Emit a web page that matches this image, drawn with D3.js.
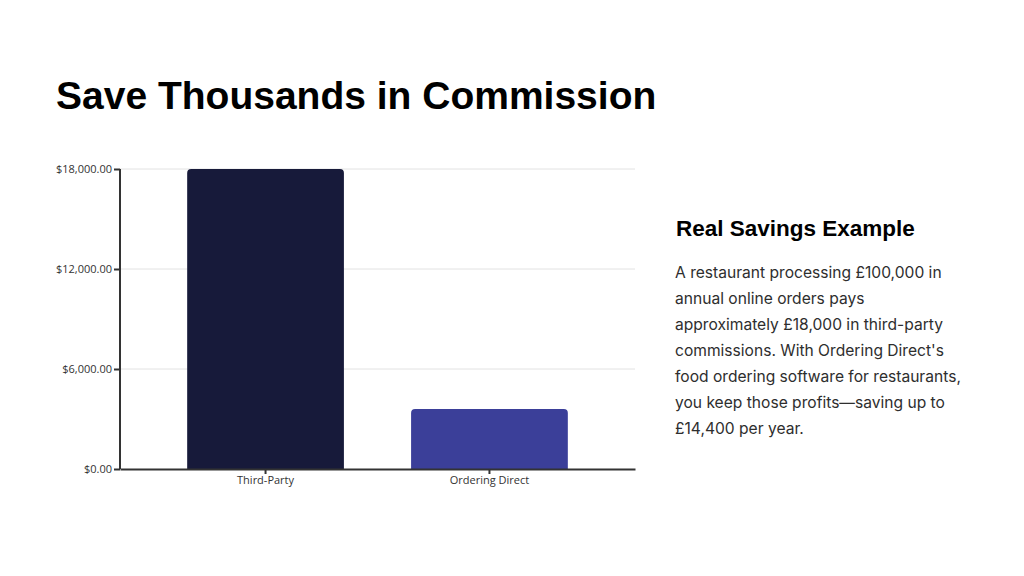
<!DOCTYPE html>
<html lang="en">
<head>
    <meta charset="UTF-8">
    <title>Save Thousands in Commission</title>
    <script src="https://cdn.jsdelivr.net/npm/d3@7"></script>
    <style>
        body { margin: 0; background: #fff; overflow: hidden; }
        svg { display: block; }
    </style>
</head>
<body>
    <svg width="1024" height="576" id="mainsvg"></svg>
    <script>
        const categories = ['Third-Party', 'Ordering Direct'];
        const commission = [18000, 3600];
        const barColors = ['#171a3a', '#3b3f99'];
        const yTicks = [0, 6000, 12000, 18000];
        const bodyLines = [
            'A restaurant processing £100,000 in',
            'annual online orders pays',
            'approximately £18,000 in third-party',
            "commissions. With Ordering Direct's",
            'food ordering software for restaurants,',
            'you keep those profits—saving up to',
            '£14,400 per year.'
        ];

        const svg = d3.select('#mainsvg');
        const margin = { top: 169, right: 389, bottom: 107, left: 120 };
        const innerWidth = 1024 - margin.left - margin.right;
        const innerHeight = 576 - margin.top - margin.bottom;

        svg.append('text')
            .attr('x', 56).attr('y', 109)
            .attr('font-family', 'Liberation Sans, Arial, sans-serif')
            .attr('font-weight', 'bold')
            .attr('font-size', 39)
            .attr('fill', '#000')
            .text('Save Thousands in Commission');

        const g = svg.append('g')
            .attr('transform', `translate(${margin.left},${margin.top})`);

        const x = d3.scaleBand().domain(categories).range([0, innerWidth]).padding(0.3);
        const y = d3.scaleLinear().domain([0, 18000]).range([innerHeight, 0]);

        // gridlines
        g.selectAll('.grid').data(yTicks.slice(1)).join('line')
            .attr('x1', 0).attr('x2', innerWidth)
            .attr('y1', d => y(d)).attr('y2', d => y(d))
            .attr('stroke', '#e2e2e2').attr('stroke-width', 1);

        // bars with rounded top corners
        const r = 4;
        g.selectAll('.bar').data(categories).join('path')
            .attr('d', (c, i) => {
                const x0 = x(c), x1 = x0 + x.bandwidth();
                const y0 = y(commission[i]), y1 = y(0);
                return `M${x0},${y1}V${y0 + r}Q${x0},${y0} ${x0 + r},${y0}H${x1 - r}Q${x1},${y0} ${x1},${y0 + r}V${y1}Z`;
            })
            .attr('fill', (c, i) => barColors[i]);

        const yAxis = g.append('g')
            .call(d3.axisLeft(y).tickValues(yTicks).tickSize(6).tickPadding(2)
                .tickFormat(d => '$' + d3.format(',.2f')(d)));
        const xAxis = g.append('g')
            .attr('transform', `translate(0,${innerHeight})`)
            .call(d3.axisBottom(x).tickSize(5).tickPadding(2).tickSizeOuter(0));

        [yAxis, xAxis].forEach(a => {
            a.select('.domain').attr('stroke', '#333').attr('stroke-width', 2);
            a.selectAll('.tick line').attr('stroke', '#333').attr('stroke-width', 2);
            a.selectAll('text')
                .attr('font-family', 'Open Sans, sans-serif')
                .attr('font-size', 11)
                .attr('fill', '#333');
        });
        yAxis.select('.domain').attr('d', `M0,0V${innerHeight}`);

        // side panel
        svg.append('text')
            .attr('x', 676).attr('y', 236)
            .attr('font-family', 'Liberation Sans, Arial, sans-serif')
            .attr('font-weight', 'bold')
            .attr('font-size', 22.5)
            .attr('fill', '#000')
            .text('Real Savings Example');

        svg.append('g').selectAll('text').data(bodyLines).join('text')
            .attr('x', 675)
            .attr('y', (d, i) => 278 + i * 26)
            .attr('font-family', 'Inter, sans-serif')
            .attr('font-size', 15.6)
            .attr('fill', '#2e2e2e')
            .text(d => d);
    </script>
</body>
</html>
